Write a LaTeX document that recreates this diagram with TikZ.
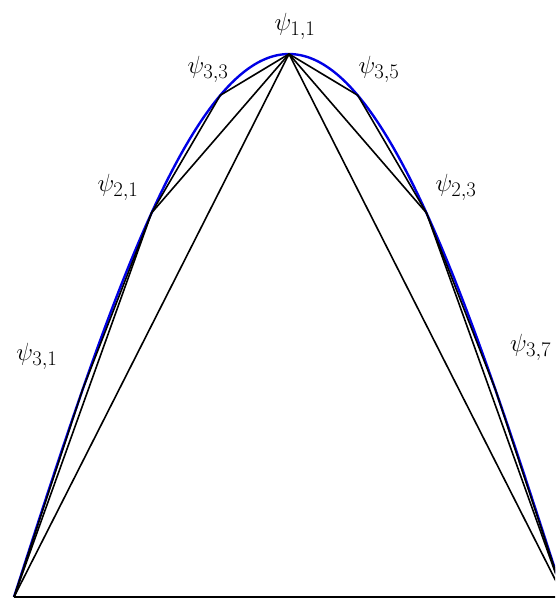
\documentclass[tikz,border=0pt]{standalone}
\begin{document}
\begin{tikzpicture}[x=1pt,y=-1pt,
  seg/.style={draw=black,line width=1.6pt,line join=round},
  curve/.style={draw=blue!90!black,line width=2.4pt},
  lab/.style={inner sep=0pt,font=\fontsize{29}{34}\selectfont}]
\useasboundingbox (0,0) rectangle (555,599);
\clip (0,0) rectangle (555,599);
% points on the curve
\coordinate (p0) at (14,597);
\coordinate (p1) at (82.75,389.2);
\coordinate (p2) at (151.5,213);
\coordinate (p3) at (220.25,95.3);
\coordinate (p4) at (289,54);
\coordinate (p5) at (357.75,95.3);
\coordinate (p6) at (426.5,213);
\coordinate (p7) at (495.25,389.2);
\coordinate (p8) at (564,597);
% blue curve
\draw[curve] plot[domain=0:1,samples=120,smooth] ({14+550*\x},{597-543*sin(180*\x)});
% level 1
\draw[seg] (p0) -- (p4) -- (p8);
% level 2
\draw[seg] (p0) -- (p2) -- (p4) -- (p6) -- (p8);
% level 3
\draw[seg] (p0) -- (p1) -- (p2) -- (p3) -- (p4) -- (p5) -- (p6) -- (p7) -- (p8);
% base line
\draw[seg] (p0) -- (p8);
% labels
\node[lab] (l11) at (295,26) {$\psi_{1,1}$};
\node[lab] (l33) at (208,69) {$\psi_{3,3}$};
\node[lab] (l35) at (379,69) {$\psi_{3,5}$};
\node[lab] (l21) at (118,187) {$\psi_{2,1}$};
\node[lab] (l23) at (456,187) {$\psi_{2,3}$};
\node[lab] (l31) at (37,356) {$\psi_{3,1}$};
\node[lab,anchor=west] (l37) at (510,347) {$\psi_{3,7}$};
\end{tikzpicture}
\end{document}
